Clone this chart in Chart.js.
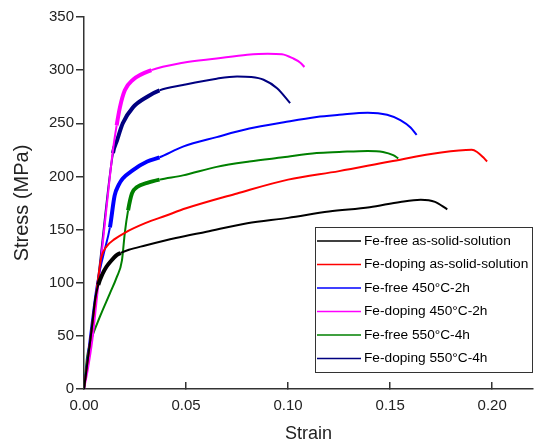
<!DOCTYPE html>
<html>
<head>
<meta charset="utf-8">
<script src="https://cdn.jsdelivr.net/npm/chart.js@4"></script>
<style>
  body { margin: 0; background: #fff; }
</style>
</head>
<body>
<canvas id="myChart" width="534" height="444"></canvas>
<script>
// stress-strain curves
var labels = ['Fe-free as-solid-solution', 'Fe-doping as-solid-solution', 'Fe-free 450°C-2h',
              'Fe-doping 450°C-2h', 'Fe-free 550°C-4h', 'Fe-doping 550°C-4h'];

var strainFeFreeSS = [0, 0.002, 0.004, 0.0055, 0.007, 0.009, 0.011, 0.013, 0.016, 0.018, 0.022, 0.03, 0.045, 0.06, 0.08, 0.1, 0.12, 0.14, 0.155, 0.165, 0.172, 0.178];
var stressFeFreeSS = [0, 30, 60, 85, 98, 108, 115, 120, 126, 128, 131, 135, 142, 148, 156, 161, 167, 171, 176, 178, 176, 169];

var strainFeDopSS = [0, 0.002, 0.004, 0.006, 0.0075, 0.0085, 0.011, 0.015, 0.02, 0.03, 0.04, 0.05, 0.075, 0.1, 0.125, 0.15, 0.175, 0.19, 0.1926, 0.1956, 0.1975];
var stressFeDopSS = [0, 30, 60, 90, 112, 124, 134, 141, 147, 156, 163, 170, 184, 197, 205, 214, 222.5, 225, 223, 218, 214];

var strainFeFree450 = [0, 0.003, 0.0065, 0.0095, 0.0127, 0.015, 0.017, 0.019, 0.024, 0.031, 0.037, 0.0485, 0.065, 0.081, 0.098, 0.114, 0.125, 0.139, 0.1485, 0.155, 0.16, 0.163];
var stressFeFree450 = [0, 50, 100, 126, 152, 182, 192, 198, 206, 214, 218, 228, 237, 245, 251, 256, 258, 260, 258, 253, 246, 239];

var strainFeDop450 = [0, 0.002, 0.004, 0.006, 0.0078, 0.011, 0.0142, 0.016, 0.0176, 0.02, 0.024, 0.033, 0.0485, 0.065, 0.08, 0.09, 0.097, 0.1025, 0.106, 0.108];
var stressFeDop450 = [0, 20, 45, 80, 112, 170, 225, 248, 265, 281, 291, 300, 307, 311, 314.5, 315.5, 315, 311, 307, 303];

var strainFeFree550 = [0, 0.0015, 0.003, 0.0078, 0.0127, 0.016, 0.0186, 0.02, 0.0216, 0.0235, 0.026, 0.031, 0.037, 0.0485, 0.065, 0.081, 0.0975, 0.114, 0.125, 0.139, 0.1465, 0.1515, 0.154];
var stressFeFree550 = [0, 30, 43, 68, 90, 105, 121, 147, 168, 184, 190, 194, 197, 201, 209, 214, 218, 222, 223, 224, 223, 220, 217];

var strainFeDop550 = [0, 0.0005, 0.004, 0.0078, 0.0142, 0.0162, 0.019, 0.024, 0.031, 0.037, 0.0485, 0.065, 0.075, 0.082, 0.088, 0.0946, 0.101];
var stressFeDop550 = [0, 8, 55, 118, 222, 234, 250, 265, 275, 281, 286, 292, 294, 293.5, 291, 283, 269];

// strain range where the measured curve is noisy (drawn thicker)
var noisyFrom = [0.006, 0, 0.012, 0.016, 0.021, 0.014];
var noisyTo   = [0.018, 0, 0.048, 0.033, 0.04, 0.038];

var colors = ['#000000', '#ff0000', '#0000ff', '#ff00ff', '#008000', '#000080'];

var xTicks = [0, 0.05, 0.1, 0.15, 0.2];

function pts(xs, ys) {
  return xs.map(function (x, i) { return { x: x, y: ys[i] }; });
}

var series = [
  pts(strainFeFreeSS, stressFeFreeSS),
  pts(strainFeDopSS, stressFeDopSS),
  pts(strainFeFree450, stressFeFree450),
  pts(strainFeDop450, stressFeDop450),
  pts(strainFeFree550, stressFeFree550),
  pts(strainFeDop550, stressFeDop550)
];

var datasets = series.map(function (d, i) {
  return {
    label: labels[i],
    data: d,
    borderColor: colors[i],
    borderWidth: 2,
    pointRadius: 0,
    fill: false,
    cubicInterpolationMode: 'monotone',
    segment: {
      borderWidth: function (ctx) {
        var a = ctx.p0.parsed.x, b = ctx.p1.parsed.x;
        return (a >= noisyFrom[i] && b <= noisyTo[i] && noisyTo[i] > 0) ? 4 : 2;
      }
    }
  };
});

// legend box inside the plot
var boxLegend = {
  id: 'boxLegend',
  afterDraw: function (chart) {
    var ctx = chart.ctx;
    var x0 = 315, y0 = 227, w = 217, h = 145, rowH = 23.5, first = 241;
    ctx.save();
    ctx.fillStyle = '#fff';
    ctx.fillRect(x0, y0, w, h);
    ctx.strokeStyle = '#333';
    ctx.lineWidth = 1;
    ctx.strokeRect(x0 + 0.5, y0 + 0.5, w, h);
    ctx.font = '13.7px "Liberation Sans", Arial, sans-serif';
    ctx.textBaseline = 'middle';
    ctx.fillStyle = '#000';
    chart.data.datasets.forEach(function (ds, i) {
      var y = first + i * rowH;
      ctx.strokeStyle = ds.borderColor;
      ctx.lineWidth = 1.5;
      ctx.beginPath();
      ctx.moveTo(x0 + 2, y);
      ctx.lineTo(x0 + 46, y);
      ctx.stroke();
      ctx.fillText(ds.label, x0 + 49, y);
    });
    ctx.restore();
  }
};

var ctx = document.getElementById('myChart').getContext('2d');
var chart = new Chart(ctx, {
  type: 'line',
  data: { datasets: datasets },
  options: {
    responsive: false,
    animation: false,
    layout: { padding: { top: 17, right: 1, left: 0, bottom: 0 } },
    plugins: { legend: { display: false }, tooltip: { enabled: false } },
    scales: {
      x: {
        type: 'linear',
        min: 0,
        max: 0.22,
        afterBuildTicks: function (scale) {
          scale.ticks = xTicks.map(function (v) { return { value: v }; });
        },
        afterFit: function (scale) { scale.height = 55; },
        grid: { drawOnChartArea: false, tickLength: -7, color: '#333', lineWidth: 1.5 },
        border: { color: '#333', width: 1.5 },
        ticks: {
          callback: function (v) { return Number(v).toFixed(2); },
          font: { family: '"Liberation Sans", Arial', size: 15 },
          color: '#222',
          padding: 15,
          maxRotation: 0
        },
        title: {
          display: true,
          text: 'Strain',
          font: { family: '"Liberation Sans", Arial', size: 18 },
          color: '#222',
          padding: { top: 0, bottom: -1 }
        }
      },
      y: {
        min: 0,
        max: 350,
        afterFit: function (scale) { scale.width = 84; },
        grid: { drawOnChartArea: false, tickLength: 8, color: '#333', lineWidth: 1.5 },
        border: { color: '#333', width: 1.5 },
        ticks: {
          stepSize: 50,
          font: { family: '"Liberation Sans", Arial', size: 15 },
          color: '#222',
          padding: 2
        },
        title: {
          display: true,
          text: 'Stress (MPa)',
          font: { family: '"Liberation Sans", Arial', size: 20 },
          color: '#222',
          padding: { top: 10, bottom: 0 }
        }
      }
    }
  },
  plugins: [boxLegend]
});
</script>
</body>
</html>
